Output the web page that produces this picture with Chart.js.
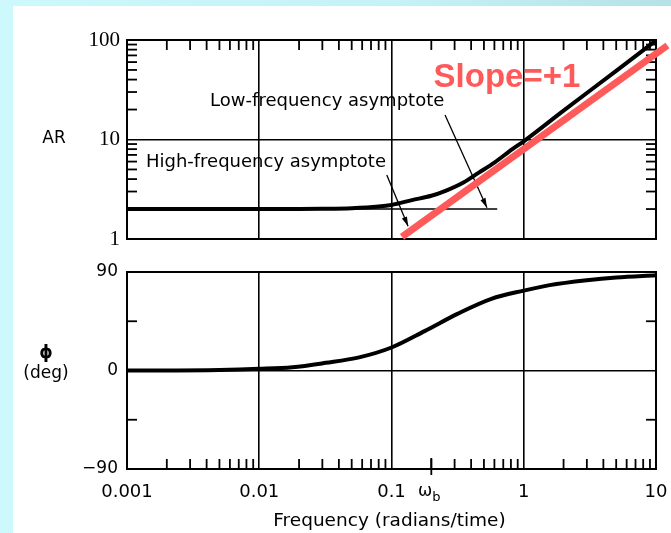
<!DOCTYPE html>
<html>
<head>
<meta charset="utf-8">
<script src="https://cdn.jsdelivr.net/npm/chart.js@4/dist/chart.umd.min.js"></script>
<style>
  html, body { margin: 0; padding: 0; width: 671px; height: 533px; overflow: hidden;
    background: linear-gradient(90deg, #cdf8fc 0%, #c4f2f7 60%, #b4e2e7 100%); }
  #sheet { position: absolute; left: 13px; top: 6px; width: 658px; height: 527px; background: #fff; }
  canvas { position: absolute; left: 0; top: 0; }
</style>
</head>
<body>
<div id="sheet"></div>
<canvas id="arChart" width="671" height="533"></canvas>
<canvas id="phaseChart" width="671" height="533"></canvas>
<script>
// Axis ticks and labels
const FREQ_TICKS = [0.001, 0.01, 0.1, 1, 10];
const FREQ_LABELS = ['0.001', '0.01', '0.1', '1', '10'];
const AR_TICKS = [1, 10, 100];
const AR_LABELS = ['1', '10', '100'];
const PHASE_TICKS = [-90, 0, 90];
const PHASE_LABELS = ['\u221290', '0', '90'];
const PHASE_MINOR = [-45, 45];
const OMEGA_B = 0.2;

// Amplitude ratio curve
const AR_FREQ   = [0.001, 0.005, 0.01, 0.02, 0.03, 0.05, 0.08, 0.1, 0.143, 0.2, 0.256, 0.35, 0.458, 0.6, 0.82, 1, 2, 5, 10];
const AR_VALUES = [2.0, 2.0, 2.0, 2.0, 2.01, 2.04, 2.12, 2.2, 2.46, 2.72, 3.05, 3.7, 4.65, 5.86, 8.0, 9.6, 19.5, 49, 99];

// Phase angle curve (deg)
const PHASE_FREQ   = [0.001, 0.005, 0.01, 0.0178, 0.0318, 0.0569, 0.1, 0.178, 0.318, 0.569, 1, 1.57, 3, 5, 10];
const PHASE_VALUES = [0, 0.5, 1.5, 3, 7, 12, 21, 36, 52, 65.5, 73, 78, 82.5, 85, 87];

// Asymptotes
const LOW_ASYM_FREQ = [0.001, 0.63];
const LOW_ASYM_AR   = [2, 2];
const SLOPE_FREQ = [0.12, 12.2];
const SLOPE_AR   = [1.05, 88];

const pts = (xs, ys) => xs.map((x, i) => ({ x, y: ys[i] }));
const minorOf = decades => decades.slice(0, -1)
  .flatMap(d => [2, 3, 4, 5, 6, 7, 8, 9].map(k => +(k * d).toPrecision(3)));

const RED = '#ff5a5a';
const TEXT_FONT = '"DejaVu Sans", sans-serif';

// Upper panel notes, placed in data units (frequency, AR)
const AR_NOTES = [
  { text: 'Low-frequency asymptote', at: [0.00425, 21.8], arrow: [[0.254, 17.6], [0.527, 2.06]] },
  { text: 'High-frequency asymptote', at: [0.00139, 5.3], arrow: [[0.0921, 4.4], [0.1335, 1.34]] }
];
const SLOPE_NOTE = { text: 'Slope=+1', at: [0.208, 33.7] };

function arrow(ctx, x1, y1, x2, y2) {
  ctx.beginPath(); ctx.moveTo(x1, y1); ctx.lineTo(x2, y2); ctx.stroke();
  const a = Math.atan2(y2 - y1, x2 - x1), L = 10, W = 0.28;
  ctx.beginPath();
  ctx.moveTo(x2, y2);
  ctx.lineTo(x2 - L * Math.cos(a - W), y2 - L * Math.sin(a - W));
  ctx.lineTo(x2 - L * Math.cos(a + W), y2 - L * Math.sin(a + W));
  ctx.closePath(); ctx.fill();
}

// Box frame and inward tick marks
const framePlugin = {
  id: 'frame',
  beforeDatasetsDraw(chart, args, opts) {
    const { ctx, chartArea: a, scales: { x, y } } = chart;
    ctx.save();
    ctx.strokeStyle = '#000';
    ctx.lineWidth = 2;
    ctx.strokeRect(a.left, a.top, a.right - a.left, a.bottom - a.top);
    ctx.lineWidth = 1.8;
    const len = 10;
    (opts.xEdges || []).forEach(edge => {
      minorOf(FREQ_TICKS).forEach(v => {
        const p = x.getPixelForValue(v);
        const y0 = edge === 'top' ? a.top : a.bottom;
        const dir = edge === 'top' ? 1 : -1;
        ctx.beginPath(); ctx.moveTo(p, y0); ctx.lineTo(p, y0 + dir * len); ctx.stroke();
      });
    });
    (opts.yMarks || []).forEach(v => {
      const p = y.getPixelForValue(v);
      ctx.beginPath(); ctx.moveTo(a.left, p); ctx.lineTo(a.left + len, p); ctx.stroke();
      ctx.beginPath(); ctx.moveTo(a.right, p); ctx.lineTo(a.right - len, p); ctx.stroke();
    });
    ctx.restore();
  }
};

// Notes, arrows and axis titles
const notesPlugin = {
  id: 'notes',
  beforeDatasetsDraw(chart, args, opts) {
    const { ctx, chartArea: a, scales: { x, y } } = chart;
    ctx.save();
    ctx.fillStyle = '#000'; ctx.strokeStyle = '#000'; ctx.lineWidth = 1.3;
    if (opts.upper) {
      ctx.font = '18px ' + TEXT_FONT;
      ctx.textAlign = 'left'; ctx.textBaseline = 'alphabetic';
      AR_NOTES.forEach(n => {
        ctx.fillText(n.text, x.getPixelForValue(n.at[0]), y.getPixelForValue(n.at[1]));
        const [p, q] = n.arrow;
        arrow(ctx, x.getPixelForValue(p[0]), y.getPixelForValue(p[1]),
                   x.getPixelForValue(q[0]), y.getPixelForValue(q[1]));
      });
      ctx.font = '17px ' + TEXT_FONT;
      ctx.textAlign = 'center'; ctx.textBaseline = 'middle';
      ctx.fillText('AR', 54, y.getPixelForValue(10) - 1);
    } else {
      ctx.textBaseline = 'middle'; ctx.textAlign = 'center';
      ctx.font = 'bold 17px ' + TEXT_FONT;
      ctx.fillText('\u03d5', 46, y.getPixelForValue(0) - 17);
      ctx.font = '17px ' + TEXT_FONT;
      ctx.fillText('(deg)', 46, y.getPixelForValue(0) + 3);
      ctx.font = '18.5px ' + TEXT_FONT;
      ctx.fillText('Frequency (radians/time)', (a.left + a.right) / 2 - 2, 521);
      // break frequency marker
      const xb = x.getPixelForValue(OMEGA_B);
      ctx.lineWidth = 1.8;
      ctx.beginPath(); ctx.moveTo(xb, a.bottom - 11); ctx.lineTo(xb, a.bottom + 6); ctx.stroke();
      ctx.textBaseline = 'alphabetic';
      ctx.textAlign = 'right';
      ctx.font = '17px ' + TEXT_FONT;
      ctx.fillText('\u03c9', xb + 1, 496);
      ctx.textAlign = 'left';
      ctx.font = '13px ' + TEXT_FONT;
      ctx.fillText('b', xb + 1, 501);
    }
    ctx.restore();
  },
  afterDatasetsDraw(chart, args, opts) {
    if (!opts.upper) return;
    const { ctx, scales: { x, y } } = chart;
    ctx.save();
    ctx.fillStyle = RED;
    ctx.font = 'bold 33px "Liberation Sans", Arial, sans-serif';
    ctx.textAlign = 'left'; ctx.textBaseline = 'alphabetic';
    ctx.fillText(SLOPE_NOTE.text, x.getPixelForValue(SLOPE_NOTE.at[0]), y.getPixelForValue(SLOPE_NOTE.at[1]));
    ctx.restore();
  }
};

const decadeGrid = { color: '#000', lineWidth: 1.6, drawTicks: false };
const setTicks = list => scale => { scale.ticks = list.map(v => ({ value: v })); };

// Frequency axis; its box spans the strip below the plot so labels are not clipped
const freqAxis = (showLabels, boxHeight) => ({
  type: 'logarithmic', min: 0.001, max: 10,
  afterBuildTicks: setTicks(FREQ_TICKS),
  afterFit: s => { s.height = boxHeight; s.paddingLeft = 0; s.paddingRight = 0; },
  border: { display: false },
  grid: decadeGrid,
  ticks: {
    display: showLabels, autoSkip: false, maxRotation: 0, padding: 13, color: '#000',
    font: { family: 'DejaVu Sans', size: 18 },
    callback: (v, i) => FREQ_LABELS[i]
  }
});

const common = {
  responsive: false, animation: false, events: [],
  plugins: { legend: { display: false }, tooltip: { enabled: false } }
};

const PLOT_LEFT = 127, PLOT_RIGHT = 656;

new Chart(document.getElementById('arChart'), {
  type: 'line',
  data: {
    datasets: [
      { data: pts(SLOPE_FREQ, SLOPE_AR), borderColor: RED, borderWidth: 7, pointRadius: 0, clip: false, borderCapStyle: 'butt' },
      { data: pts(AR_FREQ, AR_VALUES), borderColor: '#000', borderWidth: 4, pointRadius: 0, cubicInterpolationMode: 'monotone', clip: false },
      { data: pts(LOW_ASYM_FREQ, LOW_ASYM_AR), borderColor: '#000', borderWidth: 1.5, pointRadius: 0 }
    ]
  },
  options: {
    ...common,
    layout: { padding: { left: 0, top: 40, right: 671 - PLOT_RIGHT, bottom: 0 } },
    plugins: { ...common.plugins, frame: { xEdges: ['top'], yMarks: minorOf(AR_TICKS) }, notes: { upper: true } },
    scales: {
      x: freqAxis(false, 533 - 239),
      y: {
        type: 'logarithmic', min: 1, max: 100,
        afterBuildTicks: setTicks(AR_TICKS),
        afterFit: s => { s.width = PLOT_LEFT; },
        border: { display: false },
        grid: decadeGrid,
        ticks: { padding: 7, color: '#000', font: { family: 'Liberation Serif', size: 21 }, callback: (v, i) => AR_LABELS[i] }
      }
    }
  },
  plugins: [framePlugin, notesPlugin]
});

new Chart(document.getElementById('phaseChart'), {
  type: 'line',
  data: {
    datasets: [
      { data: pts(PHASE_FREQ, PHASE_VALUES), borderColor: '#000', borderWidth: 4, pointRadius: 0, cubicInterpolationMode: 'monotone' }
    ]
  },
  options: {
    ...common,
    layout: { padding: { left: 0, top: 272, right: 671 - PLOT_RIGHT, bottom: 0 } },
    plugins: { ...common.plugins, frame: { xEdges: ['bottom'], yMarks: PHASE_MINOR }, notes: { upper: false } },
    scales: {
      x: freqAxis(true, 533 - 469),
      y: {
        type: 'linear', min: -90, max: 90,
        afterBuildTicks: setTicks(PHASE_TICKS),
        afterFit: s => { s.width = PLOT_LEFT; },
        border: { display: false },
        grid: decadeGrid,
        ticks: { padding: 9, color: '#000', font: { family: 'DejaVu Sans', size: 17 }, callback: (v, i) => PHASE_LABELS[i] }
      }
    }
  },
  plugins: [framePlugin, notesPlugin]
});
</script>
</body>
</html>
